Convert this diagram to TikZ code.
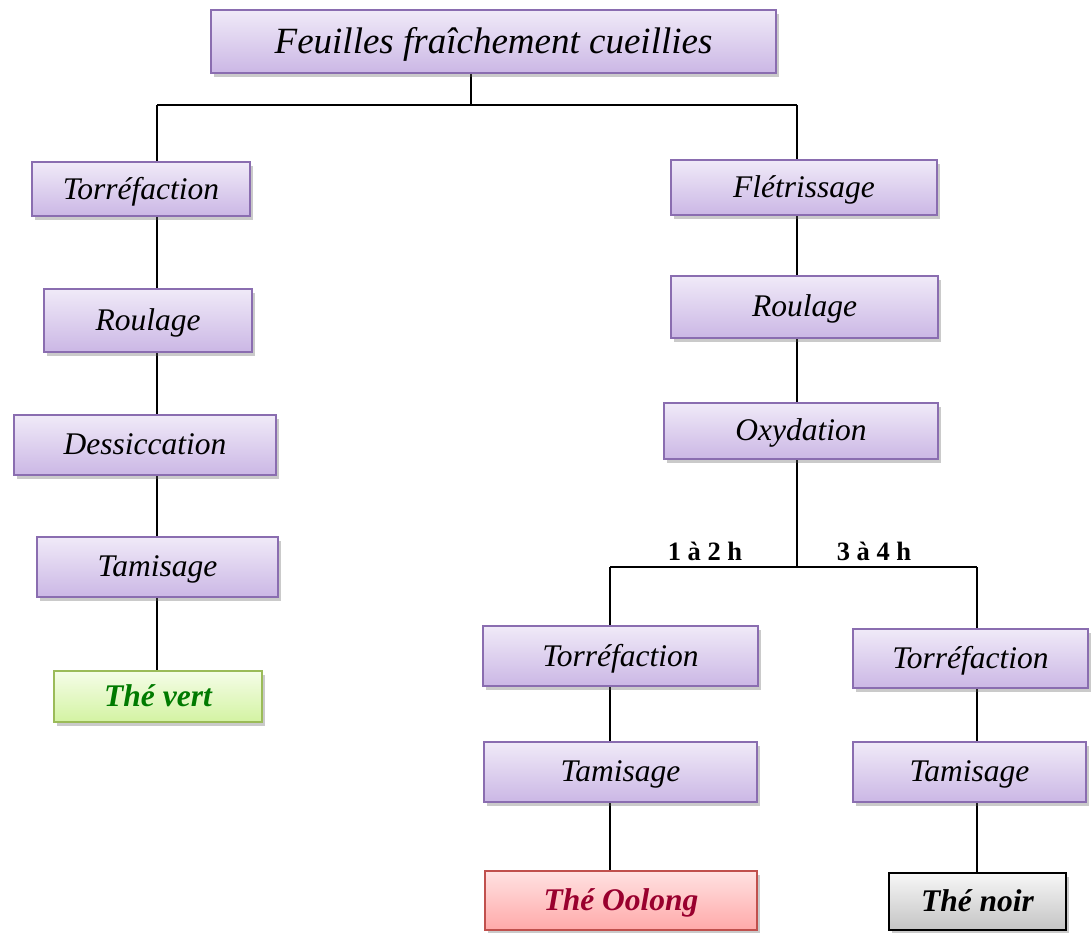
\documentclass[tikz,border=0pt]{standalone}
\usepackage{fontspec}
\setmainfont{Liberation Serif}
\usetikzlibrary{shadows}
\pgfdeclarelayer{background}
\pgfsetlayers{background,main}
\definecolor{purpletop}{HTML}{F0EAF8}
\definecolor{purplebot}{HTML}{CBB7E5}
\definecolor{purpleline}{HTML}{8A6DB0}
\definecolor{greentop}{HTML}{F5FDE8}
\definecolor{greenbot}{HTML}{D3F3A2}
\definecolor{greenline}{HTML}{9BBB59}
\definecolor{greentext}{HTML}{007A00}
\definecolor{redtop}{HTML}{FFE2E2}
\definecolor{redbot}{HTML}{FFA9A9}
\definecolor{redline}{HTML}{C0504D}
\definecolor{redtext}{HTML}{99002E}
\definecolor{graytop}{HTML}{F7F7F7}
\definecolor{graybot}{HTML}{C4C4C4}
\tikzset{
  basebox/.style={rectangle, inner sep=0pt, line width=1.2pt, text depth=2pt,
    drop shadow={shadow xshift=3pt, shadow yshift=-4pt, opacity=0.35, fill=black!60},
    font=\fontsize{31.5}{36}\selectfont\itshape},
  stepbox/.style={basebox, draw=purpleline, top color=purpletop, bottom color=purplebot},
  vertbox/.style={basebox, draw=greenline, top color=greentop, bottom color=greenbot,
    text=greentext, font=\fontsize{31.5}{36}\selectfont\bfseries\itshape},
  oolongbox/.style={basebox, draw=redline, top color=redtop, bottom color=redbot,
    text=redtext, font=\fontsize{31.5}{36}\selectfont\bfseries\itshape},
  noirbox/.style={basebox, draw=black, top color=graytop, bottom color=graybot,
    text=black, font=\fontsize{31.5}{36}\selectfont\bfseries\itshape},
  conn/.style={line width=1.3pt, black},
  hlabel/.style={font=\fontsize{26.5}{30}\selectfont\bfseries, inner sep=0pt}
}
\begin{document}
\begin{tikzpicture}[x=1pt,y=-1pt]
\useasboundingbox (0,0) rectangle (1092,933);
% top
\node[stepbox, minimum width=565pt, minimum height=63pt, font=\fontsize{37}{42}\selectfont\itshape] (top) at (493.5,41.5) {Feuilles fraîchement cueillies};
% left branch
\node[stepbox, minimum width=218pt, minimum height=54pt] (lt1) at (141,189) {Torréfaction};
\node[stepbox, minimum width=208pt, minimum height=63pt] (lr) at (148,320.5) {Roulage};
\node[stepbox, minimum width=262pt, minimum height=60pt] (ld) at (145,445) {Dessiccation};
\node[stepbox, minimum width=241pt, minimum height=60pt] (lta) at (157.5,567) {Tamisage};
\node[vertbox, minimum width=208pt, minimum height=51pt] (vert) at (158,696.5) {Thé vert};
% right branch
\node[stepbox, minimum width=266pt, minimum height=55pt] (rf) at (804,187.5) {Flétrissage};
\node[stepbox, minimum width=267pt, minimum height=62pt] (rr) at (804.5,307) {Roulage};
\node[stepbox, minimum width=274pt, minimum height=56pt] (ro) at (801,431) {Oxydation};
% oolong
\node[stepbox, minimum width=275pt, minimum height=60pt] (ot) at (620.5,656) {Torréfaction};
\node[stepbox, minimum width=273pt, minimum height=60pt] (otam) at (620.5,772) {Tamisage};
\node[oolongbox, minimum width=272pt, minimum height=59pt] (oolong) at (621,900.5) {Thé Oolong};
% noir
\node[stepbox, minimum width=235pt, minimum height=59pt] (nt) at (970.5,658.5) {Torréfaction};
\node[stepbox, minimum width=233pt, minimum height=60pt] (ntam) at (969.5,772) {Tamisage};
\node[noirbox, minimum width=177pt, minimum height=57pt] (noir) at (977.5,901.5) {Thé noir};
% labels
\node[hlabel] (l12) at (705,551) {1 à 2 h};
\node[hlabel] (l34) at (874,551) {3 à 4 h};
% junctions
\coordinate (j0) at (471,105);
\coordinate (jl) at (157,105);
\coordinate (jr) at (797,105);
\coordinate (k0) at (797,567);
\coordinate (kl) at (610,567);
\coordinate (kr) at (977,567);
\begin{pgfonlayer}{background}
\draw[conn] (top.south -| j0) -- (j0);
\draw[conn] (jl) -- (jr);
\draw[conn] (jl) -- (jl |- vert.north);
\draw[conn] (jr) -- (k0);
\draw[conn] (kl) -- (kr);
\draw[conn] (kl) -- (kl |- oolong.north);
\draw[conn] (kr) -- (kr |- noir.north);
\end{pgfonlayer}
\end{tikzpicture}
\end{document}
